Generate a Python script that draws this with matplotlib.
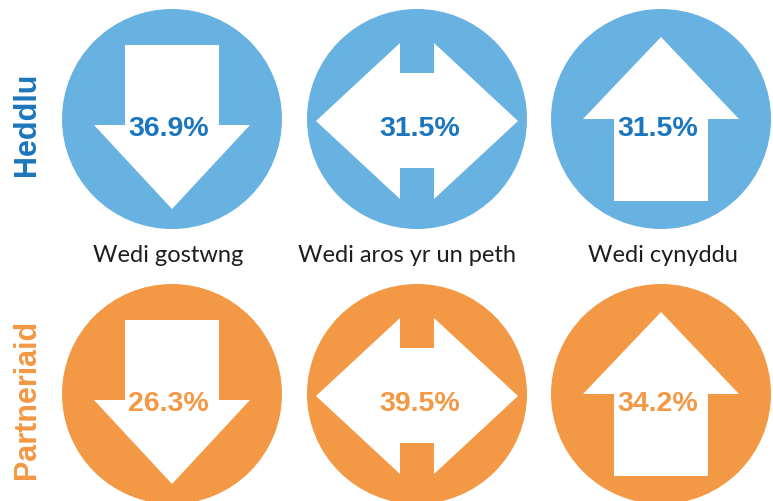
import matplotlib
matplotlib.use("Agg")
import matplotlib.pyplot as plt
from matplotlib.patches import Circle, Polygon

# ---- data ----
categories = ["Wedi gostwng", "Wedi aros yr un peth", "Wedi cynyddu"]
groups = ["Heddlu", "Partneriaid"]
heddlu_values = [36.9, 31.5, 31.5]
partneriaid_values = [26.3, 39.5, 34.2]
directions = ["down", "both", "up"]

# ---- style ----
W, H = 773, 502
circle_colors = ["#68B2E1", "#F39844"]
text_colors = ["#1B76BD", "#F39844"]
label_color = "#1E1E1E"
col_x = [172, 417, 661]
text_dx = [-3.5, 3, -3]
row_y = [120, 395]
R = 110
label_x = [168, 407, 663]
label_baseline = 262


def arrow_shape(kind, cx, cy):
    if kind == "down":
        pts = [(-47, -74), (47, -74), (47, 6), (78, 6), (0, 90),
               (-78, 6), (-47, 6)]
    elif kind == "up":
        pts = [(0, -82), (78, 0), (47, 0), (47, 82), (-47, 82),
               (-47, 0), (-78, 0)]
    else:
        pts = [(-101, 2), (-17, -76), (-17, -46), (17, -46), (17, -76),
               (101, 2), (17, 80), (17, 49), (-17, 49), (-17, 80)]
    return [(cx + dx, cy + dy) for dx, dy in pts]


fig = plt.figure(figsize=(W / 100, H / 100), dpi=100)
ax = fig.add_axes([0, 0, 1, 1])
ax.set_xlim(0, W)
ax.set_ylim(H, 0)
ax.set_aspect("equal")
ax.axis("off")

rows = [heddlu_values, partneriaid_values]
for r, (grp, vals) in enumerate(zip(groups, rows)):
    cy = row_y[r]
    for c, (v, d) in enumerate(zip(vals, directions)):
        cx = col_x[c]
        ax.add_patch(Circle((cx, cy), R, color=circle_colors[r], lw=0))
        ax.add_patch(Polygon(arrow_shape(d, cx, cy), closed=True,
                             facecolor="white", lw=0))
        ax.text(cx + text_dx[c], cy + 16, f"{v:.1f}%", ha="center",
                va="baseline", fontsize=20.5, fontweight="bold",
                color=text_colors[r], family="Liberation Sans")
    ax.text(27, cy + 4, grp, rotation=90, ha="center", va="center",
            fontsize=22, fontweight="bold", color=text_colors[r],
            family="Liberation Sans")

for x, lab in zip(label_x, categories):
    ax.text(x, label_baseline, lab, ha="center", va="baseline",
            fontsize=17, color=label_color, family="Lato")

fig.savefig("out.png", dpi=100)
